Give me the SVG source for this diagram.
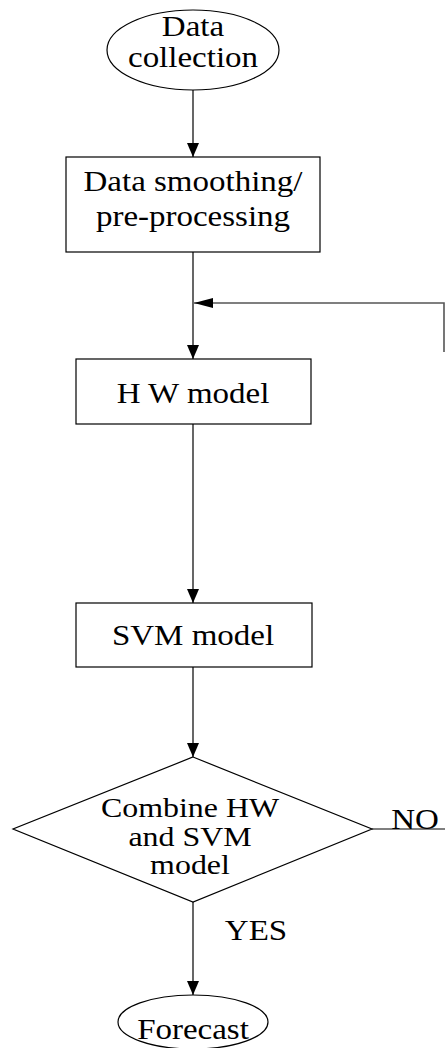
<svg xmlns="http://www.w3.org/2000/svg" width="445" height="1048" viewBox="0 0 445 1048">
  <style>
    .shape { fill: #ffffff; stroke: #000000; stroke-width: 1.2; }
    .flow { fill: none; stroke: #000000; stroke-width: 1.2; }
    .loop { fill: none; stroke: #555555; stroke-width: 1.6; }
    .label { font-family: "Liberation Serif", "Times New Roman", serif; font-size: 30px; fill: #000000; text-anchor: middle; }
    .small { font-size: 28px; }
  </style>
  <defs>
    <marker id="arrow" viewBox="0 0 14 12" refX="14" refY="6" markerWidth="14" markerHeight="12" markerUnits="userSpaceOnUse" orient="auto">
      <path d="M0,0 L14,6 L0,12 Z" fill="#000000"/>
    </marker>
    <marker id="arrow-long" viewBox="0 0 19 10" refX="19" refY="5" markerWidth="19" markerHeight="10" markerUnits="userSpaceOnUse" orient="auto">
      <path d="M0,0 L19,5 L0,10 Z" fill="#000000"/>
    </marker>
  </defs>

  <!-- connectors -->
  <g id="connectors">
    <line class="flow" x1="193" y1="90" x2="193" y2="157" marker-end="url(#arrow)"/>
    <line class="flow" x1="193" y1="252" x2="193" y2="359" marker-end="url(#arrow)"/>
    <line class="flow" x1="193" y1="424" x2="193" y2="603" marker-end="url(#arrow)"/>
    <line class="flow" x1="193" y1="667" x2="193" y2="757" marker-end="url(#arrow)"/>
    <line class="flow" x1="193" y1="902" x2="193" y2="995" marker-end="url(#arrow)"/>
    <!-- NO branch returning to the HW model input -->
    <line class="flow" x1="372" y1="829" x2="445" y2="829"/>
    <polyline class="loop" points="444,352 444,303 194,303" marker-end="url(#arrow-long)"/>
    <g transform="translate(415,0) scale(1.1,1)">
      <text class="label" x="0" y="829">NO</text>
    </g>
    <g transform="translate(256,0) scale(1.1,1)">
      <text class="label" x="0" y="940">YES</text>
    </g>
  </g>

  <g id="data-collection">
    <ellipse class="shape" cx="193" cy="50" rx="86" ry="40"/>
    <g transform="translate(193,0) scale(1.1,1)">
      <text class="label" x="0" y="36">Data</text>
      <text class="label" x="0" y="67">collection</text>
    </g>
  </g>

  <g id="smoothing">
    <rect class="shape" x="66" y="157" width="254" height="95"/>
    <g transform="translate(193,0) scale(1.1,1)">
      <text class="label" x="0" y="191">Data smoothing/</text>
      <text class="label" x="0" y="226">pre-processing</text>
    </g>
  </g>

  <g id="hw-model">
    <rect class="shape" x="76" y="359" width="235" height="65"/>
    <g transform="translate(193,0) scale(1.1,1)">
      <text class="label" x="0" y="403">H W model</text>
    </g>
  </g>

  <g id="svm-model">
    <rect class="shape" x="76" y="603" width="236" height="64"/>
    <g transform="translate(193,0) scale(1.1,1)">
      <text class="label" x="0" y="645">SVM model</text>
    </g>
  </g>

  <g id="combine">
    <polygon class="shape" points="193,757 372,829 193,902 13,829"/>
    <g transform="translate(190,0) scale(1.14,1)">
      <text class="label small" x="0" y="817">Combine HW</text>
      <text class="label small" x="0" y="846">and SVM</text>
      <text class="label small" x="0" y="874">model</text>
    </g>
  </g>

  <g id="forecast">
    <ellipse class="shape" cx="193" cy="1022" rx="75" ry="27"/>
    <g transform="translate(193,0) scale(1.1,1)">
      <text class="label" x="0" y="1039">Forecast</text>
    </g>
  </g>
</svg>
